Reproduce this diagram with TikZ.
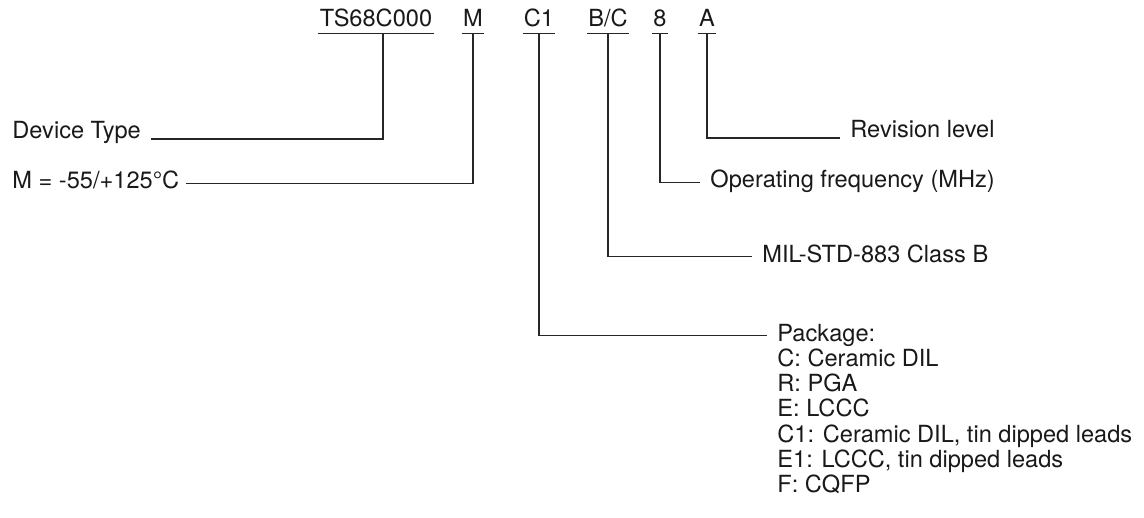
\documentclass[tikz,border=0pt]{standalone}
\usepackage{fontspec}
\setmainfont{TeX Gyre Heros}
\begin{document}
\begin{tikzpicture}[x=0.5pt,y=-0.5pt,line cap=butt]
        % Styles
        \tikzstyle{code label}=[anchor=base,inner xsep=0.5pt,inner ysep=3pt,text depth=0pt,font=\fontsize{11.8}{14}\selectfont,text=black!90]
        \tikzstyle{description}=[inner xsep=5pt,inner ysep=0pt,font=\fontsize{11.8}{14}\selectfont,text=black!90]
        \tikzstyle{lead line}=[draw=black!85,line width=0.6pt]
        \useasboundingbox (0,0) rectangle (1144,518);
        %part number
        \node[code label] (ts) at (376,27) {TS68C000};
        \node[code label] (m)  at (473,27) {M};
        \node[code label] (c1) at (539,27) {C1};
        \node[code label] (bc) at (608,27) {B/C};
        \node[code label] (f)  at (660,27) {8};
        \node[code label] (a)  at (707,27) {A};
        \foreach \n in {ts,m,c1,bc,f,a}
            \draw[lead line] (\n.south west) -- (\n.south east);
        %descriptions
        \node[description,anchor=base west] (dev)  at (2,139) {Device Type};
        \node[description,anchor=base west,inner xsep=3pt] (temp) at (6,189) {M = -55/+125°C};
        \node[description,anchor=base west] (rev)  at (840,138) {Revision level};
        \node[description,anchor=base west] (freq) at (700,188) {Operating frequency (MHz)};
        \node[description,anchor=base west] (mil)  at (752,262) {MIL-STD-883 Class B};
        \node[description,anchor=base west] (pkg)  at (767,341) {Package:};
        \foreach \txt [count=\i] in {C: Ceramic DIL, R: PGA, E: LCCC, {C1: Ceramic DIL, tin dipped leads}, {E1: LCCC, tin dipped leads}, F: CQFP}
            \path (pkg.base west) ++(0,25.3*\i) node[description,anchor=base west] (pkg\i) {\txt};
        %lead lines
        \draw[lead line] ([xshift=3.5pt]ts.south) |- (dev.base east);
        \draw[lead line] (m.south) |- (temp.mid east);
        \draw[lead line] (c1.south) |- (pkg.mid west);
        \draw[lead line] (bc.south) |- (mil.mid west);
        \draw[lead line] (f.south) |- (freq.mid west);
        \draw[lead line] (a.south) |- (rev.base west);
    \end{tikzpicture}
\end{document}
